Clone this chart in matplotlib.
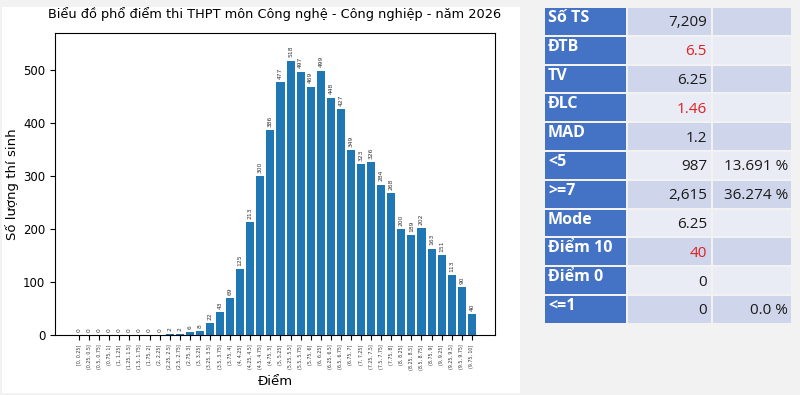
import matplotlib
matplotlib.use("Agg")
import matplotlib.pyplot as plt
from matplotlib.patches import Rectangle

# ---- data ----
bin_edges = [i * 0.25 for i in range(41)]
counts = [0, 0, 0, 0, 0, 0, 0, 0, 0, 2, 2, 6, 8, 22, 43, 69, 125, 213, 300, 386,
          477, 518, 497, 469, 499, 448, 427, 349, 323, 326, 284, 268, 200, 189, 202,
          163, 151, 113, 90, 40]
tick_labels = []
for i in range(40):
    a, b = bin_edges[i], bin_edges[i + 1]
    if i == 0:
        tick_labels.append(f"[{a:g}, {b:g}]")
    else:
        tick_labels.append(f"({a:g}, {b:g}]")

title = "Biểu đồ phổ điểm thi THPT môn Công nghệ - Công nghiệp - năm 2026"
xlabel = "Điểm"
ylabel = "Số lượng thí sinh"
yticks = [0, 100, 200, 300, 400, 500]

row_labels = ["Số TS", "ĐTB", "TV", "ĐLC", "MAD", "<5", ">=7", "Mode", "Điểm 10", "Điểm 0", "<=1"]
row_values = ["7,209", "6.5", "6.25", "1.46", "1.2", "987", "2,615", "6.25", "40", "0", "0"]
row_pcts = ["", "", "", "", "", "13.691 %", "36.274 %", "", "", "", "0.0 %"]
row_red = [False, True, False, True, False, False, False, False, True, False, False]

# ---- figure ----
W, H = 800, 395
fig = plt.figure(figsize=(W / 100, H / 100), dpi=100, facecolor="#f2f2f2")

def fx(px):
    return px / W

def fy(py):
    return 1 - py / H

# white panel behind chart
fig.patches.append(Rectangle((fx(2), fy(393)), fx(518), (391 - 5) / H, transform=fig.transFigure,
                             facecolor="white", edgecolor="none", zorder=-5))

ax = fig.add_axes([fx(55), fy(335), fx(440), (335 - 33) / H])
ax.set_zorder(5)
x = list(range(len(counts)))
bars = ax.bar(x, counts, width=0.8, color="#1f77b4")
for xi, c in zip(x, counts):
    ax.text(xi, c + 6, str(c), rotation=90, ha="center", va="bottom", fontsize=4.3, color="#333333")
ax.set_xticks(x)
ax.set_xticklabels(tick_labels, rotation=90, fontsize=3.4, color="#333333")
ax.set_yticks(yticks)
ax.tick_params(axis="y", labelsize=8.5)
ax.set_ylim(0, 570)
ax.set_xlim(-2.39, 41.3)
ax.set_xlabel(xlabel, fontsize=9.5, labelpad=4)
ax.set_ylabel(ylabel, fontsize=9.5, labelpad=3)
ax.set_title(title, fontsize=9.3, pad=11)

# ---- table ----
top = 8
row_h = 28.8
cols = [(545, 626), (628, 711), (713, 791)]
dark = "#cfd5ea"
light = "#e9ebf5"
header = "#4472c4"
font = ["Open Sans", "DejaVu Sans"]
for i, lab in enumerate(row_labels):
    y0 = top + i * row_h
    y1 = y0 + row_h - 2
    fill = dark if i % 2 == 0 else light
    for j, (c0, c1) in enumerate(cols):
        col = header if j == 0 else fill
        fig.patches.append(Rectangle((fx(c0), fy(y1)), fx(c1 - c0), (y1 - y0) / H,
                                     transform=fig.transFigure, facecolor=col, edgecolor="none",
                                     zorder=1))
    fig.text(fx(548), fy(y0 + 10), lab, color="white", fontsize=11.5, fontweight="bold",
             family=font, ha="left", va="center", zorder=2)
    fig.text(fx(707), fy(y0 + 15), row_values[i], color="#e02020" if row_red[i] else "#1a1a1a",
             fontsize=11, family=font, ha="right", va="center", zorder=2)
    if row_pcts[i]:
        fig.text(fx(788), fy(y0 + 15), row_pcts[i], color="#1a1a1a",
                 fontsize=11, family=font, ha="right", va="center", zorder=2)

fig.savefig("out.png", dpi=100, facecolor=fig.get_facecolor())
